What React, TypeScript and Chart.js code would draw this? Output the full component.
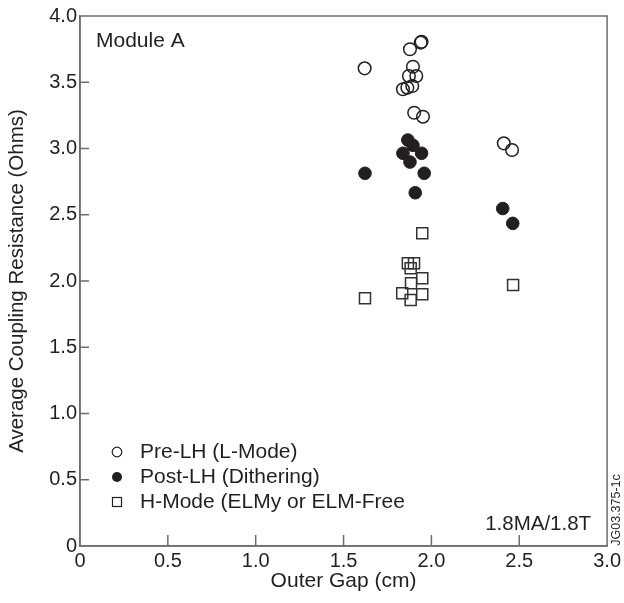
import React, { useEffect, useRef } from "react";
import { Chart, registerables } from "chart.js";

Chart.register(...registerables);

// Pre-LH (L-Mode) — open circles
const preLhX = [1.62, 1.944, 1.939, 1.878, 1.895, 1.872, 1.914, 1.838, 1.863, 1.891, 1.902, 1.952, 2.412, 2.459];
const preLhY = [3.605, 3.806, 3.799, 3.749, 3.617, 3.547, 3.547, 3.447, 3.459, 3.472, 3.27, 3.24, 3.039, 2.989];

// Post-LH (Dithering) — filled circles
const postLhX = [1.866, 1.895, 1.838, 1.944, 1.878, 1.622, 1.959, 1.908, 2.406, 2.463];
const postLhY = [3.064, 3.024, 2.964, 2.964, 2.898, 2.813, 2.813, 2.666, 2.547, 2.435];

// H-Mode (ELMy or ELM-Free) — open squares
const hModeX = [1.948, 1.866, 1.901, 1.882, 1.948, 1.884, 1.948, 1.834, 1.882, 1.622, 2.465];
const hModeY = [2.36, 2.134, 2.134, 2.096, 2.02, 1.983, 1.9, 1.907, 1.857, 1.869, 1.97];

const seriesLabels = ["Pre-LH (L-Mode)", "Post-LH (Dithering)", "H-Mode (ELMy or ELM-Free"];
const xTitle = "Outer Gap (cm)";
const yTitle = "Average Coupling Resistance (Ohms)";
const xTicks = [0, 0.5, 1.0, 1.5, 2.0, 2.5, 3.0];
const yTicks = [0, 0.5, 1.0, 1.5, 2.0, 2.5, 3.0, 3.5, 4.0];
const panelLabel = "Module A";
const condLabel = "1.8MA/1.8T";
const figId = "JG03.375-1c";

const FONT = "'Liberation Sans', Arial, Helvetica, sans-serif";
const INK = "#231f20";
const AXIS = "#6d6d6d";

const pts = (xs: number[], ys: number[]) => xs.map((x, i) => ({ x, y: ys[i] }));
const fmt = (v: number) => (v === 0 ? "0" : v.toFixed(1));

const decorPlugin = {
  id: "decor",
  afterDraw(chart: any) {
    const { ctx, chartArea: a, scales } = chart;
    const xs = scales.x;
    const ys = scales.y;
    ctx.save();
    // frame
    ctx.strokeStyle = AXIS;
    ctx.lineWidth = 1.5;
    ctx.strokeRect(a.left, a.top, a.right - a.left, a.bottom - a.top);
    // inward ticks
    ctx.beginPath();
    xTicks.forEach((v) => {
      if (v <= 0 || v >= 3) return;
      const px = xs.getPixelForValue(v);
      ctx.moveTo(px, a.bottom);
      ctx.lineTo(px, a.bottom - 11);
    });
    yTicks.forEach((v) => {
      if (v <= 0 || v >= 4) return;
      const py = ys.getPixelForValue(v);
      ctx.moveTo(a.left, py);
      ctx.lineTo(a.left + 9, py);
    });
    ctx.stroke();

    // texts
    ctx.fillStyle = INK;
    ctx.textBaseline = "middle";
    ctx.textAlign = "left";
    ctx.font = `21px ${FONT}`;
    ctx.fillText(panelLabel, a.left + 16, a.top + 25);

    // legend
    const lx = a.left + 37;
    const tx = a.left + 60;
    const rows = [452, 477, 502];
    ctx.lineWidth = 1.2;
    ctx.strokeStyle = INK;
    ctx.beginPath();
    ctx.arc(lx, rows[0], 4.8, 0, Math.PI * 2);
    ctx.stroke();
    ctx.beginPath();
    ctx.arc(lx, rows[1], 5, 0, Math.PI * 2);
    ctx.fill();
    ctx.strokeRect(lx - 4.5, rows[2] - 4.5, 9, 9);
    ctx.font = `21px ${FONT}`;
    seriesLabels.forEach((t, i) => ctx.fillText(t, tx, rows[i]));

    ctx.font = `20.5px ${FONT}`;
    ctx.textAlign = "right";
    ctx.fillText(condLabel, a.right - 16, a.bottom - 22);

    // figure id rotated
    ctx.translate(a.right + 9, a.bottom - 36);
    ctx.rotate(-Math.PI / 2);
    ctx.textAlign = "center";
    ctx.font = `12.5px ${FONT}`;
    ctx.fillText(figId, 0, 0);
    ctx.restore();
  },
};

export default function App() {
  const ref = useRef<HTMLCanvasElement | null>(null);
  useEffect(() => {
    if (!ref.current) return;
    const chart = new Chart(ref.current, {
      type: "scatter",
      data: {
        datasets: [
          {
            label: seriesLabels[0],
            data: pts(preLhX, preLhY),
            pointStyle: "circle",
            pointRadius: 6.3,
            backgroundColor: "rgba(0,0,0,0)",
            borderColor: INK,
            borderWidth: 1.5,
          },
          {
            label: seriesLabels[1],
            data: pts(postLhX, postLhY),
            pointStyle: "circle",
            pointRadius: 6.3,
            backgroundColor: INK,
            borderColor: INK,
            borderWidth: 1,
          },
          {
            label: seriesLabels[2],
            data: pts(hModeX, hModeY),
            pointStyle: "rect",
            pointRadius: 7.8,
            backgroundColor: "rgba(0,0,0,0)",
            borderColor: "#333",
            borderWidth: 1.5,
          },
        ],
      },
      options: {
        animation: false,
        responsive: true,
        maintainAspectRatio: false,
        layout: { padding: { left: 0, top: 16, right: 15, bottom: 0 } },
        plugins: { legend: { display: false }, tooltip: { enabled: false } },
        scales: {
          x: {
            type: "linear",
            min: 0,
            max: 3,
            afterFit: (s: any) => {
              s.height = 57;
            },
            afterBuildTicks: (s: any) => {
              s.ticks = xTicks.map((v) => ({ value: v }));
            },
            ticks: {
              callback: (v: any) => fmt(Number(v)),
              color: INK,
              font: { family: FONT, size: 20 },
              padding: 3,
              maxRotation: 0,
            },
            grid: { display: false, drawTicks: false },
            border: { display: true, color: AXIS, width: 1.5 },
            title: {
              display: true,
              text: xTitle,
              color: INK,
              font: { family: FONT, size: 21 },
              padding: { top: 0, bottom: 9 },
            },
          },
          y: {
            type: "linear",
            min: 0,
            max: 4,
            afterFit: (s: any) => {
              s.width = 80;
            },
            afterBuildTicks: (s: any) => {
              s.ticks = yTicks.map((v) => ({ value: v }));
            },
            ticks: {
              callback: (v: any) => fmt(Number(v)),
              color: INK,
              font: { family: FONT, size: 20 },
              padding: 3,
            },
            grid: { display: false, drawTicks: false },
            border: { display: true, color: AXIS, width: 1.5 },
            title: {
              display: true,
              text: yTitle,
              color: INK,
              font: { family: FONT, size: 20.5 },
              padding: { top: 5, bottom: 0 },
            },
          },
        },
      },
      plugins: [decorPlugin],
    });
    return () => chart.destroy();
  }, []);
  return (
    <div style={{ position: "fixed", left: 0, top: 0, width: 624, height: 603, background: "#fff" }}>
      <canvas ref={ref} />
    </div>
  );
}
